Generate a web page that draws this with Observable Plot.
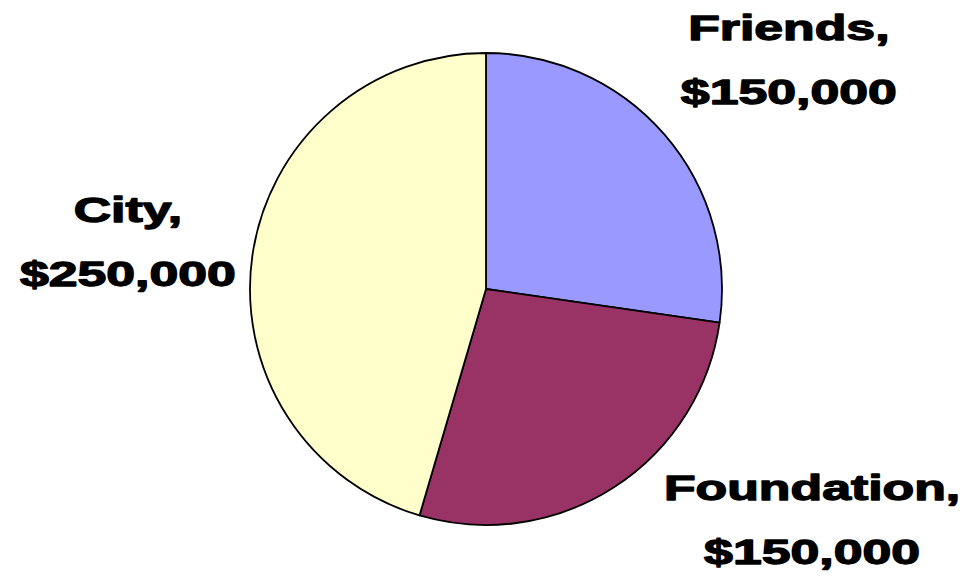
<!DOCTYPE html>
<html>
<head>
<meta charset="utf-8">
<script src="https://cdn.jsdelivr.net/npm/d3@7"></script>
<script src="https://cdn.jsdelivr.net/npm/@observablehq/plot@0.6"></script>
<style>
  html, body { margin: 0; padding: 0; background: #ffffff; }
  #chart svg { display: block; }
</style>
</head>
<body>
<div id="chart"></div>
<script>
// ---- data ----
const categories = ["Friends", "Foundation", "City"];
const amounts = [150000, 150000, 250000];
const sliceColors = ["#9999FF", "#993366", "#FFFFCC"];

const data = categories.map((c, i) => ({category: c, amount: amounts[i]}));
const arcs = d3.pie().sort(null).value(d => d.amount)(data);
const mid = new Map(arcs.map(a => [a.data.category, (a.startAngle + a.endAngle) / 2]));
const color = d3.scaleOrdinal(categories, sliceColors);
const fmt = d3.format(",");

// ---- layout ----
const W = 967, H = 586, R = 236, CX = 486, CY = 289;
const xDomain = [-CX / R, (W - CX) / R];
const yDomain = [-(H - CY) / R, CY / R];

function pieMark(index, scales) {
  const {x, y} = scales;
  const cx = x(0), cy = y(0), r = x(1) - x(0);
  const arc = d3.arc().innerRadius(0).outerRadius(r);
  const g = d3.create("svg:g").attr("transform", `translate(${cx},${cy})`);
  g.selectAll("path")
    .data(arcs)
    .join("path")
    .attr("d", arc)
    .attr("fill", d => color(d.data.category))
    .attr("stroke", "#000")
    .attr("stroke-width", 1.8)
    .attr("stroke-linejoin", "round");
  return g.node();
}

function label(cat, dx, dy) {
  return Plot.text(data.filter(d => d.category === cat), {
    x: d => Math.sin(mid.get(d.category)),
    y: d => Math.cos(mid.get(d.category)),
    text: d => `${d.category},\n$${fmt(d.amount)}`,
    dx, dy,
    fontSize: 35,
    fontWeight: "bold",
    fontFamily: "Liberation Sans, Arial, sans-serif",
    lineHeight: 1.83,
    fill: "#000",
    stroke: "#000",
    strokeWidth: 1.3,
    textAnchor: "middle",
    className: "pie-label"
  });
}

const chart = Plot.plot({
  width: W,
  height: H,
  margin: 0,
  x: {domain: xDomain, axis: null},
  y: {domain: yDomain, axis: null},
  style: {background: "#ffffff", overflow: "visible"},
  marks: [
    pieMark,
    label("Friends", 124, -83),
    label("Foundation", 198, 23.5),
    label("City", -125, -22)
  ]
});

// widen label glyphs horizontally to match the reference's wide bold type
d3.select(chart).selectAll(".pie-label text").each(function () {
  const t = d3.select(this);
  const tr = t.attr("transform");
  if (tr) {
    t.attr("transform", tr + " scale(1.48,1)");
  } else {
    const x = +t.attr("x") || 0, y = +t.attr("y") || 0;
    t.attr("x", null).attr("y", null)
     .attr("transform", `translate(${x},${y}) scale(1.48,1)`);
  }
});

document.getElementById("chart").appendChild(chart);
</script>
</body>
</html>
